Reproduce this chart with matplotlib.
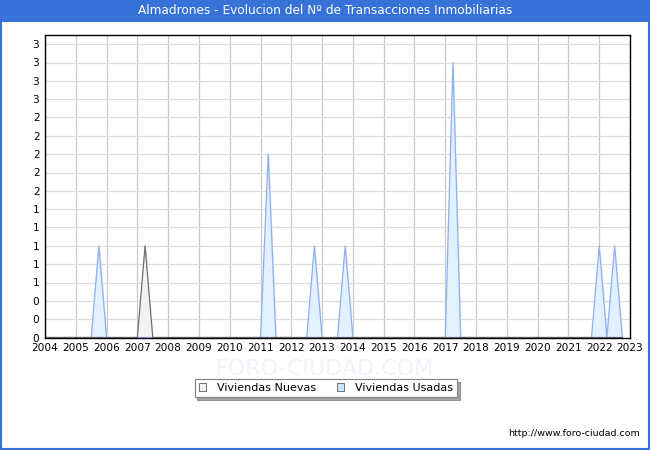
import numpy as np
import matplotlib
matplotlib.use("Agg")
import matplotlib.pyplot as plt
from matplotlib.patches import Patch, Rectangle
from matplotlib.ticker import FuncFormatter

# quarterly data, one row per year (Q1..Q4)
years = list(range(2004, 2023))
nuevas = [
    [0, 0, 0, 0],  # 2004
    [0, 0, 0, 0],  # 2005
    [0, 0, 0, 0],  # 2006
    [0, 1, 0, 0],  # 2007
    [0, 0, 0, 0],  # 2008
    [0, 0, 0, 0],  # 2009
    [0, 0, 0, 0],  # 2010
    [0, 0, 0, 0],  # 2011
    [0, 0, 0, 0],  # 2012
    [0, 0, 0, 0],  # 2013
    [0, 0, 0, 0],  # 2014
    [0, 0, 0, 0],  # 2015
    [0, 0, 0, 0],  # 2016
    [0, 0, 0, 0],  # 2017
    [0, 0, 0, 0],  # 2018
    [0, 0, 0, 0],  # 2019
    [0, 0, 0, 0],  # 2020
    [0, 0, 0, 0],  # 2021
    [0, 0, 0, 0],  # 2022
]
usadas = [
    [0, 0, 0, 0],  # 2004
    [0, 0, 0, 1],  # 2005
    [0, 0, 0, 0],  # 2006
    [0, 0, 0, 0],  # 2007
    [0, 0, 0, 0],  # 2008
    [0, 0, 0, 0],  # 2009
    [0, 0, 0, 0],  # 2010
    [0, 2, 0, 0],  # 2011
    [0, 0, 0, 1],  # 2012
    [0, 0, 0, 1],  # 2013
    [0, 0, 0, 0],  # 2014
    [0, 0, 0, 0],  # 2015
    [0, 0, 0, 0],  # 2016
    [0, 3, 0, 0],  # 2017
    [0, 0, 0, 0],  # 2018
    [0, 0, 0, 0],  # 2019
    [0, 0, 0, 0],  # 2020
    [0, 0, 0, 0],  # 2021
    [1, 0, 1, 0],  # 2022
]

x = np.array([y + q / 4 for y in years for q in range(4)])
y_nue = np.array(nuevas).ravel()
y_usa = np.array(usadas).ravel()

blue = "#3672d8"
fig = plt.figure(figsize=(6.5, 4.5), dpi=100)
fig.patch.set_facecolor("white")

# title bar and border
fig.patches.append(Rectangle((0, 1 - 22 / 450), 1, 22 / 450, transform=fig.transFigure,
                             facecolor=blue, edgecolor="none", zorder=0))
fig.patches.append(Rectangle((0.001, 0.002), 0.997, 0.996, transform=fig.transFigure,
                             facecolor="none", edgecolor=blue, linewidth=1.5, zorder=0))
fig.text(0.5, 1 - 11 / 450, "Almadrones - Evolucion del Nº de Transacciones Inmobiliarias",
         color="white", ha="center", va="center", fontsize=8.7)

# watermark (very faint, below the tick labels)
fig.text(0.5, 1 - 369 / 450, "FORO-CIUDAD.COM", ha="center", va="center",
         fontsize=16, color="#f1f3fb", zorder=0)

ax = fig.add_axes([45 / 650, 1 - 337.5 / 450, 585 / 650, 302.5 / 450])
ax.fill_between(x, y_usa, color="#e2f0ff", zorder=2)
ax.plot(x, y_usa, color="#8fb0ec", linewidth=0.9, zorder=3)
ax.fill_between(x, y_nue, color="#f2f2f2", zorder=2)
ax.plot(x, y_nue, color="#707070", linewidth=0.9, zorder=3)

ax.set_xlim(2004, 2023)
ax.set_ylim(0, 3.3)
ax.set_xticks(range(2004, 2024))
ax.set_yticks(np.arange(0, 3.21, 0.2))
ax.yaxis.set_major_formatter(FuncFormatter(lambda v, p: "%.0f" % v))
ax.tick_params(length=0, labelsize=7.6, pad=4)
ax.grid(axis="x", color="#c8c8c8", linewidth=0.9, zorder=1)
ax.grid(axis="y", color="#dcdcdc", linewidth=0.9, zorder=1)
ax.set_axisbelow(True)
for s in ax.spines.values():
    s.set_linewidth(1.0)
    s.set_zorder(4)

handles = [Patch(facecolor="#f2f2f2", edgecolor="#707070", linewidth=0.7),
           Patch(facecolor="#cfe6ff", edgecolor="#707070", linewidth=0.7)]
leg = fig.legend(handles, ["Viviendas Nuevas", "Viviendas Usadas"], ncol=2,
                 loc="center", bbox_to_anchor=(326 / 650, 1 - 388 / 450),
                 fontsize=8, frameon=True, fancybox=False, shadow=True,
                 handlelength=0.7, handleheight=0.7, columnspacing=1.8,
                 handletextpad=1.0, borderpad=0.35, borderaxespad=0)
leg.get_frame().set_edgecolor("#808080")
leg.get_frame().set_linewidth(0.8)

fig.text(640 / 650, 1 - 433 / 450, "http://www.foro-ciudad.com", ha="right", va="center",
         fontsize=6.8)

fig.savefig("out.png", dpi=100)
